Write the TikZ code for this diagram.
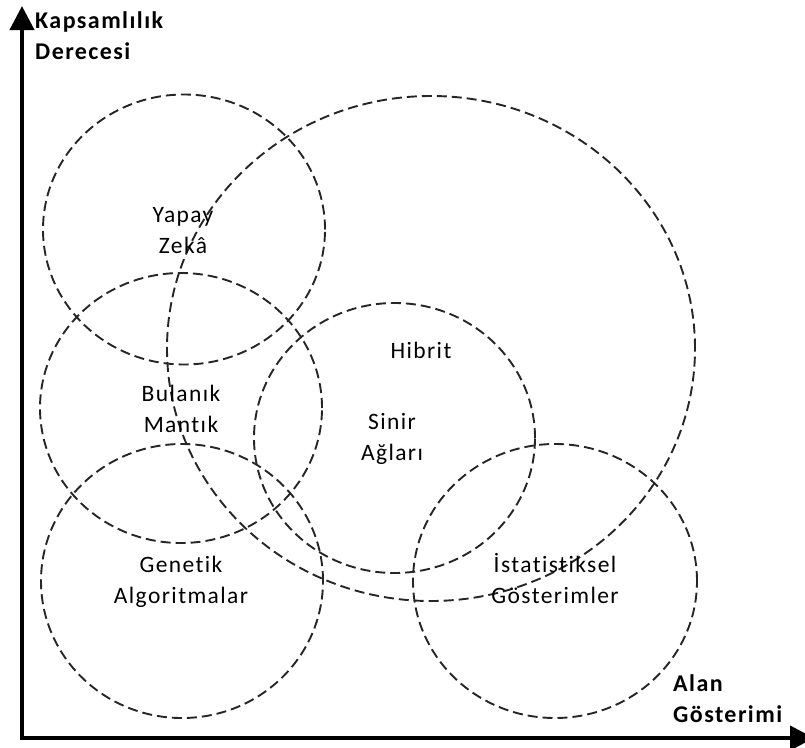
\documentclass[tikz,border=0pt]{standalone}
\usepackage{fontspec}
\setmainfont{Carlito}[LetterSpace=6, Ligatures=NoCommon]
\usetikzlibrary{arrows.meta}
\begin{document}
\begin{tikzpicture}[x=1pt,y=-1pt,
  ring/.style={draw=black!85, line width=1.9pt, dash pattern=on 10pt off 5pt},
  lbl/.style={inner sep=0pt, anchor=base, font=\fontsize{23.5}{31}\selectfont},
  axlbl/.style={inner sep=0pt, anchor=base west, font=\bfseries\fontsize{24}{31}\selectfont},
  axisline/.style={line width=4pt, -{Triangle[length=24pt,width=24pt]}}]
\useasboundingbox (0,0) rectangle (805,747);
\clip (0,0) rectangle (805,747);
% axes
\coordinate (origin) at (22,740);
\coordinate (ytip) at (22,6);
\coordinate (xstart) at (20,738);
\coordinate (xtip) at (814,738);
\draw[axisline] (origin) -- (ytip);
\draw[axisline] (xstart) -- (xtip);
% circles
\draw[ring] (431,348.5) ellipse [x radius=264pt, y radius=252.5pt];
\draw[ring] (184,229.5) ellipse [x radius=141pt, y radius=135pt];
\draw[ring] (181,408) ellipse [x radius=141pt, y radius=135pt];
\draw[ring] (182,581) ellipse [x radius=141pt, y radius=137pt];
\draw[ring] (394.5,438) ellipse [x radius=140.5pt, y radius=135pt];
\draw[ring] (555,581) ellipse [x radius=142pt, y radius=137pt];
% labels
\node[axlbl] (ylab) at (35,28) {\begin{tabular}[t]{@{}l@{}}Kapsamlılık\\Derecesi\end{tabular}};
\node[axlbl] (xlab) at (673,691) {\begin{tabular}[t]{@{}l@{}}Alan\\Gösterimi\end{tabular}};
\node[lbl] (yz) at (183,222) {\begin{tabular}[t]{@{}c@{}}Yapay\\Zekâ\end{tabular}};
\node[lbl] (bm) at (181,401) {\begin{tabular}[t]{@{}c@{}}Bulanık\\Mantık\end{tabular}};
\node[lbl] (ga) at (181,572) {\begin{tabular}[t]{@{}c@{}}Genetik\\Algoritmalar\end{tabular}};
\node[lbl] (sa) at (392,429) {\begin{tabular}[t]{@{}c@{}}Sinir\\Ağları\end{tabular}};
\node[lbl] (hb) at (421,358) {Hibrit};
\node[lbl] (ig) at (555,572) {\begin{tabular}[t]{@{}c@{}}İstatistiksel\\Gösterimler\end{tabular}};
\end{tikzpicture}
\end{document}
